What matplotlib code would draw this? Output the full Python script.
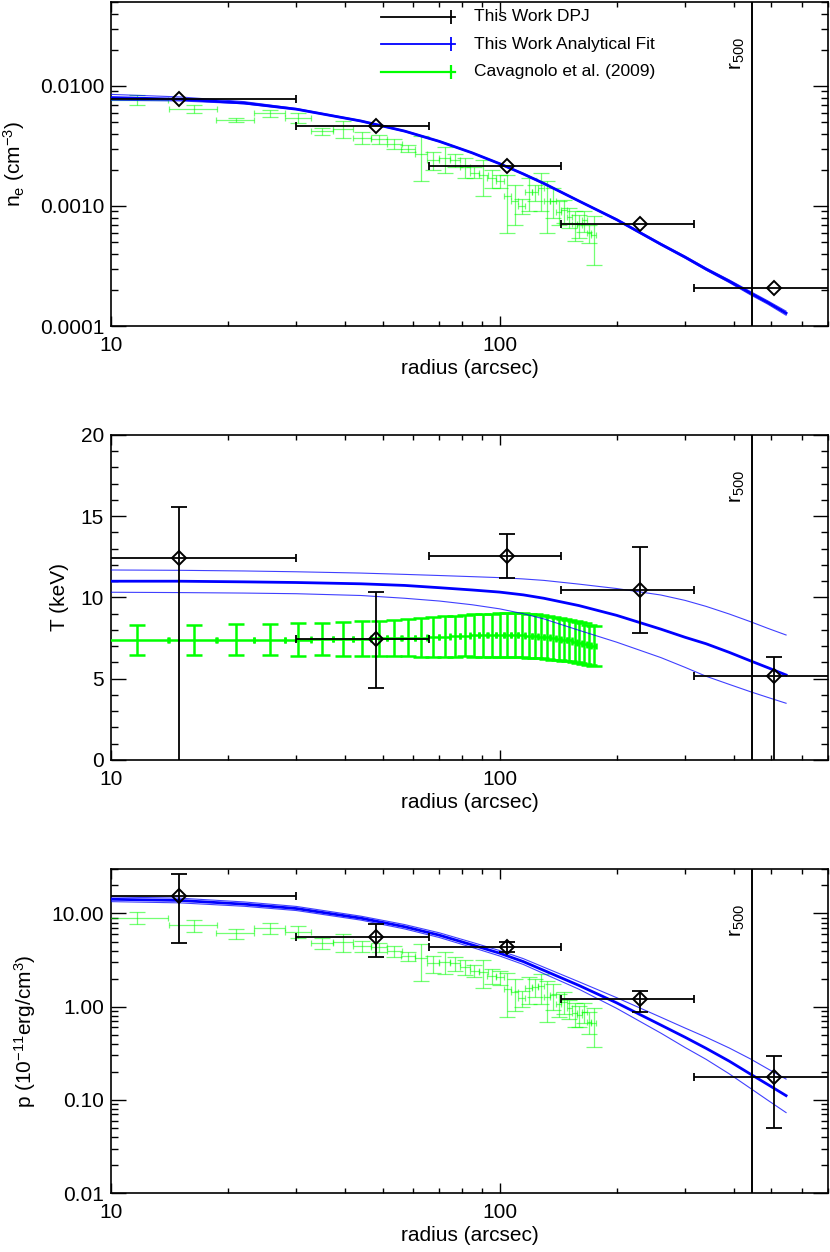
import numpy as np
import matplotlib.pyplot as plt
from matplotlib.ticker import FixedLocator, FormatStrFormatter, LogLocator, MultipleLocator, NullFormatter
import matplotlib.transforms as mtransforms

plt.rcParams['font.family'] = ['Liberation Sans', 'DejaVu Sans']
plt.rcParams['mathtext.fontset'] = 'custom'
plt.rcParams['mathtext.rm'] = 'Liberation Sans'
plt.rcParams['mathtext.it'] = 'Liberation Sans'
plt.rcParams['axes.linewidth'] = 1.2

# deprojected (DPJ) annuli
dpj_r = [15.0, 48.0, 104.5, 230.0, 507.0]
dpj_rin = [1.0, 30.0, 66.0, 144.0, 316.0]
dpj_rout = [30.0, 66.0, 144.0, 316.0, 800.0]
dpj_ne = [0.00775, 0.00462, 0.00217, 0.000708, 0.000209]
dpj_T = [12.43, 7.43, 12.55, 10.46, 5.17]
dpj_T_lo = [-1.0, 4.41, 11.18, 7.83, -1.0]
dpj_T_hi = [15.55, 10.36, 13.9, 13.09, 6.32]
dpj_p = [15.4, 5.53, 4.39, 1.20, 0.175]
dpj_p_lo = [4.84, 3.37, 3.87, 0.88, 0.0504]
dpj_p_hi = [26.2, 7.62, 4.97, 1.48, 0.296]

# analytical fit and its band
fit_r = [10, 15, 22, 30, 44, 57, 70, 85, 100, 115, 130, 160, 200, 260, 300, 340, 390, 442, 490, 546]
fit_ne = [0.0080, 0.00775, 0.0072, 0.0064, 0.0051, 0.0042, 0.00345, 0.00277, 0.00225, 0.00185,
          0.00154, 0.00110, 0.00077, 0.00048, 0.000375, 0.000298, 0.000236, 0.000188, 0.000157,
          0.000128]
fit_ne_lo = [0.0076, 0.0075, 0.0071, 0.00635, 0.00505, 0.00416, 0.00342, 0.00275, 0.00223,
             0.00183, 0.00152, 0.00109, 0.00076, 0.000472, 0.000368, 0.000292, 0.000230,
             0.000182, 0.000152, 0.000123]
fit_ne_hi = [0.0085, 0.0081, 0.0074, 0.00648, 0.00515, 0.00424, 0.00348, 0.00279, 0.00227,
             0.00187, 0.00156, 0.00111, 0.00078, 0.000488, 0.000382, 0.000304, 0.000242,
             0.000194, 0.000162, 0.000133]
fit_T = [11.0, 11.0, 10.96, 10.92, 10.84, 10.74, 10.6, 10.46, 10.33, 10.16, 9.95, 9.5, 8.9,
         8.05, 7.55, 7.15, 6.62, 6.1, 5.68, 5.23]
fit_T_lo = [10.32, 10.3, 10.27, 10.23, 10.12, 9.95, 9.78, 9.55, 9.3, 9.0, 8.68, 7.98, 7.25,
            6.3, 5.7, 5.15, 4.65, 4.2, 3.85, 3.49]
fit_T_hi = [11.69, 11.67, 11.63, 11.58, 11.5, 11.42, 11.35, 11.28, 11.22, 11.14, 11.05, 10.82,
            10.55, 10.15, 9.82, 9.45, 8.98, 8.51, 8.1, 7.69]
fit_p = [14.2, 13.8, 12.6, 11.3, 8.9, 7.2, 5.85, 4.6, 3.75, 3.05, 2.45, 1.69, 1.1, 0.635,
         0.47, 0.357, 0.26, 0.189, 0.146, 0.111]
fit_p_lo = [13.4, 13.0, 11.95, 10.75, 8.48, 6.82, 5.52, 4.32, 3.5, 2.84, 2.26, 1.54, 0.96,
            0.52, 0.365, 0.272, 0.19, 0.133, 0.099, 0.073]
fit_p_hi = [15.05, 14.6, 13.3, 11.9, 9.35, 7.6, 6.2, 4.9, 4.0, 3.28, 2.65, 1.85, 1.25, 0.77,
            0.59, 0.47, 0.36, 0.275, 0.215, 0.167]

# Cavagnolo et al. (2009) profile
acc_r = [11.7, 16.4, 21.0, 25.7, 30.3, 35.0, 39.6, 44.3, 48.9, 53.6, 58.2, 62.9, 67.5, 72.2,
         76.8, 81.5, 86.1, 90.8, 95.4, 100.1, 104.7, 109.4, 114.0, 118.7, 123.3, 128.0, 132.6,
         137.3, 141.9, 146.6, 151.2, 155.9, 160.5, 165.2, 169.8, 174.5]
acc_dr = 2.33
acc_ne = [0.0077, 0.0064, 0.0052, 0.0059, 0.0054, 0.0042, 0.0044, 0.0037, 0.0036, 0.0033,
          0.0030, 0.0027, 0.0024, 0.0025, 0.0024, 0.0021, 0.0019, 0.0018, 0.0017, 0.0016,
          0.0012, 0.0011, 0.0010, 0.0013, 0.0013, 0.0014, 0.0011, 0.0011, 0.00089, 0.00092,
          0.00081, 0.00071, 0.00069, 0.00076, 0.00059, 0.00057]
acc_ne_err = [0.0007, 0.0005, 0.0002, 0.0004, 0.0005, 0.0003, 0.0007, 0.0004, 0.0003, 0.0003,
              0.0002, 0.0011, 0.0004, 0.0006, 0.0003, 0.0004, 0.0002, 0.0006, 0.0003, 0.0002,
              0.0006, 0.0004, 0.00015, 0.0004, 0.0002, 0.0005, 0.0005, 0.0003, 0.0002, 0.0002,
              0.00015, 0.0002, 0.00015, 0.00015, 0.0001, 0.00025]
acc_T = [7.38, 7.38, 7.39, 7.40, 7.41, 7.43, 7.45, 7.47, 7.49, 7.50, 7.52, 7.53, 7.56, 7.59,
         7.62, 7.65, 7.66, 7.67, 7.68, 7.69, 7.69, 7.68, 7.67, 7.65, 7.62, 7.59, 7.55, 7.49,
         7.45, 7.41, 7.36, 7.28, 7.22, 7.16, 7.09, 7.02]
acc_T_err = [0.95, 0.95, 0.96, 0.97, 0.99, 1.0, 1.03, 1.06, 1.09, 1.12, 1.15, 1.18, 1.21, 1.24,
             1.26, 1.28, 1.30, 1.31, 1.32, 1.33, 1.34, 1.34, 1.35, 1.35, 1.35, 1.34, 1.33, 1.31,
             1.30, 1.29, 1.28, 1.27, 1.26, 1.25, 1.24, 1.22]
acc_p = [8.97, 7.43, 6.1, 7.0, 6.36, 4.84, 4.9, 4.5, 4.35, 3.95, 3.5, 3.29, 2.91, 3.03, 2.91,
         2.68, 2.43, 2.37, 2.13, 2.06, 1.53, 1.44, 1.23, 1.57, 1.61, 1.66, 1.28, 1.33, 1.08,
         1.13, 0.96, 0.85, 0.81, 0.88, 0.69, 0.67]
acc_p_err = [1.3, 1.1, 0.75, 0.95, 0.9, 0.65, 1.05, 0.6, 0.45, 0.5, 0.4, 1.4, 0.6, 0.8, 0.5,
             0.5, 0.35, 0.8, 0.4, 0.35, 0.75, 0.55, 0.25, 0.5, 0.35, 0.6, 0.6, 0.4, 0.3, 0.3,
             0.22, 0.25, 0.2, 0.22, 0.18, 0.3]

r500 = 445.0

GREEN = '#00ff00'
BLUE = '#0000ff'
FS = 15


def draw_dpj(ax, y, ylo=None, yhi=None):
    x = np.array(dpj_r)
    y = np.array(y)
    xerr = [x - np.array(dpj_rin), np.array(dpj_rout) - x]
    ax.errorbar(x, y, xerr=xerr, fmt='none', ecolor='k', elinewidth=1.3, capsize=3, capthick=1.3, zorder=5)
    if ylo is not None:
        yerr = [y - np.array(ylo), np.array(yhi) - y]
        ax.errorbar(x, y, yerr=yerr, fmt='none', ecolor='k', elinewidth=1.3, capsize=6, capthick=1.3, zorder=5)
    ax.plot(x, y, 'D', ms=7, mfc='none', mec='k', mew=1.4, zorder=6)


def draw_acc(ax, y, yerr, thick=False):
    lw = 1.8 if thick else 0.9
    alpha = 1.0 if thick else 0.55
    ax.errorbar(acc_r, y, xerr=acc_dr, fmt='none', ecolor=GREEN, elinewidth=lw, capsize=2.5,
                capthick=lw, alpha=alpha, zorder=3)
    ax.errorbar(acc_r, y, yerr=yerr, fmt='none', ecolor=GREEN, elinewidth=lw, capsize=6,
                capthick=lw, alpha=alpha, zorder=3)


def draw_fit(ax, y, lo, hi):
    ax.plot(fit_r, lo, color=BLUE, lw=0.8, alpha=0.75, zorder=4)
    ax.plot(fit_r, hi, color=BLUE, lw=0.8, alpha=0.75, zorder=4)
    ax.plot(fit_r, y, color=BLUE, lw=2.0, zorder=4)


def style(ax):
    ax.set_xscale('log')
    ax.set_xlim(10, 700)
    ax.xaxis.set_major_locator(FixedLocator([10, 100]))
    ax.xaxis.set_major_formatter(FormatStrFormatter('%d'))
    ax.xaxis.set_minor_locator(LogLocator(base=10, subs=np.arange(2, 10)))
    ax.xaxis.set_minor_formatter(NullFormatter())
    ax.tick_params(which='both', direction='in', top=True, right=True, labelsize=FS, width=1.0)
    ax.xaxis.set_tick_params(which='major', length=7, pad=7)
    ax.xaxis.set_tick_params(which='minor', length=3.6)
    ax.yaxis.set_tick_params(which='major', length=10.8, pad=5)
    ax.yaxis.set_tick_params(which='minor', length=5)
    ax.set_xlabel('radius (arcsec)', fontsize=FS, va='top')
    ax.xaxis.set_label_coords(0.5, -0.102)
    ax.axvline(r500, color='k', lw=1.4, zorder=7)
    trans = mtransforms.blended_transform_factory(ax.transData, ax.transAxes)
    ax.text(r500 * 0.975, 0.84, r'r$_{500}$', transform=trans, rotation=90, ha='right',
            va='center', fontsize=FS)


fig = plt.figure(figsize=(8.3, 12.52), dpi=100)
ax1 = fig.add_axes([0.1337, 0.7396, 0.8639, 0.2588])
ax2 = fig.add_axes([0.1337, 0.3930, 0.8639, 0.2596])
ax3 = fig.add_axes([0.1337, 0.0471, 0.8639, 0.2588])

# density
draw_acc(ax1, acc_ne, acc_ne_err)
draw_fit(ax1, fit_ne, fit_ne_lo, fit_ne_hi)
draw_dpj(ax1, dpj_ne)
style(ax1)
ax1.set_yscale('log')
ax1.set_ylim(1e-4, 0.05)
ax1.yaxis.set_major_locator(FixedLocator([1e-4, 1e-3, 1e-2]))
ax1.yaxis.set_major_formatter(FormatStrFormatter('%.4f'))
ax1.yaxis.set_minor_locator(LogLocator(base=10, subs=np.arange(2, 10)))
ax1.yaxis.set_minor_formatter(NullFormatter())
ax1.set_ylabel(r'n$_{e}$ (cm$^{-3}$)', fontsize=FS)
ax1.yaxis.set_label_coords(-0.117, 0.5)

# legend drawn by hand
legend_rows = [('This Work DPJ', 'k', 1.3), ('This Work Analytical Fit', BLUE, 1.3),
               ('Cavagnolo et al. (2009)', GREEN, 1.6)]
for i, (lab, col, lw) in enumerate(legend_rows):
    yy = 0.954 - i * 0.085
    ax1.plot([0.377, 0.480], [yy, yy], color=col, lw=lw, transform=ax1.transAxes, clip_on=False)
    ax1.plot([0.474], [yy], marker='|', ms=10, mew=lw, color=col, transform=ax1.transAxes)
    ax1.text(0.506, yy, lab, transform=ax1.transAxes, fontsize=12.5, va='center', ha='left')

# temperature
draw_acc(ax2, acc_T, acc_T_err, thick=True)
draw_fit(ax2, fit_T, fit_T_lo, fit_T_hi)
draw_dpj(ax2, dpj_T, dpj_T_lo, dpj_T_hi)
style(ax2)
ax2.set_ylim(0, 20)
ax2.yaxis.set_major_locator(MultipleLocator(5))
ax2.yaxis.set_minor_locator(MultipleLocator(1))
ax2.set_ylabel('T (keV)', fontsize=FS)
ax2.yaxis.set_label_coords(-0.059, 0.5)

# pressure
draw_acc(ax3, acc_p, acc_p_err)
draw_fit(ax3, fit_p, fit_p_lo, fit_p_hi)
draw_dpj(ax3, dpj_p, dpj_p_lo, dpj_p_hi)
style(ax3)
ax3.set_yscale('log')
ax3.set_ylim(0.01, 30)
ax3.yaxis.set_major_locator(FixedLocator([0.01, 0.1, 1, 10]))
ax3.yaxis.set_major_formatter(FormatStrFormatter('%.2f'))
ax3.yaxis.set_minor_locator(LogLocator(base=10, subs=np.arange(2, 10)))
ax3.yaxis.set_minor_formatter(NullFormatter())
ax3.set_ylabel(r'p (10$^{-11}$erg/cm$^{3}$)', fontsize=FS)
ax3.yaxis.set_label_coords(-0.102, 0.5)

fig.savefig('out.png', dpi=100)
